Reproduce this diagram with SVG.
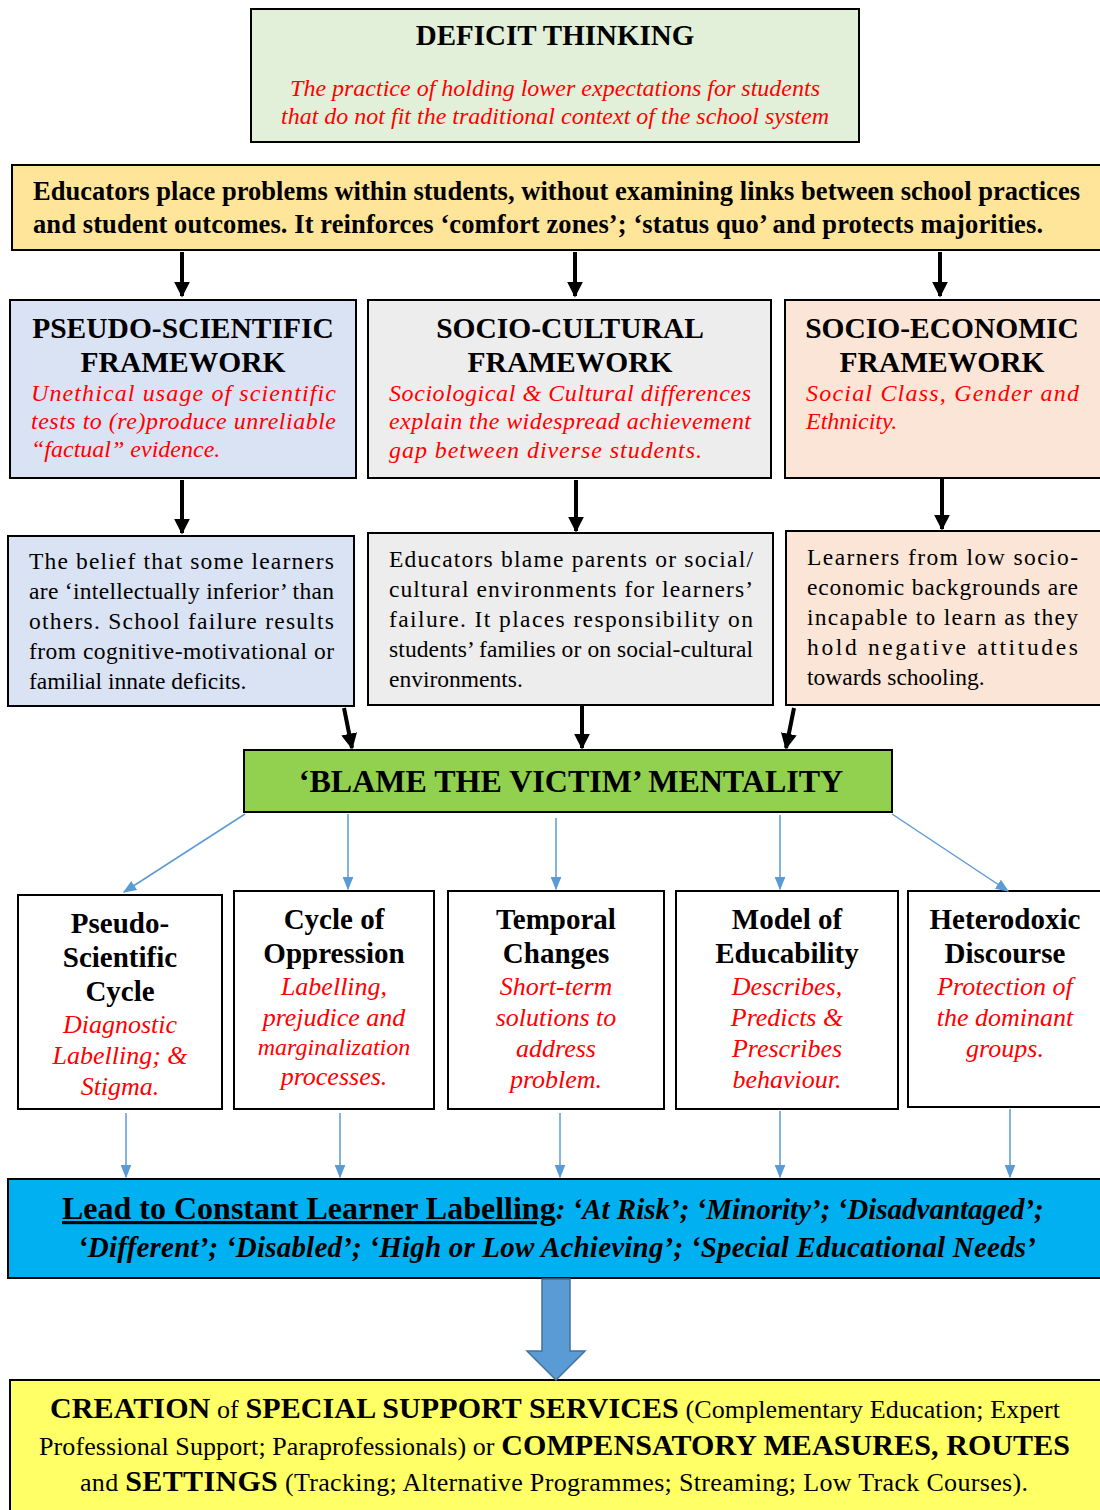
<svg xmlns="http://www.w3.org/2000/svg" width="1100" height="1510" viewBox="0 0 1100 1510" font-family="'Liberation Serif', 'Times New Roman', serif">
<defs>
<style>
text{font-family:"Liberation Serif","Times New Roman",serif;}
.box{stroke:#000;stroke-width:2;}
.bt{font-weight:bold;fill:#000;}
.red{fill:#ff0000;font-style:italic;}
.body{fill:#000;font-size:23.5px;}
.c{text-anchor:middle;}
.blk{stroke:#000;stroke-width:4;fill:none;}
.blu{stroke:#5b9bd5;stroke-width:1.5;fill:none;}
</style>
<marker id="ab" viewBox="0 0 10 10" refX="9" refY="5" markerWidth="4" markerHeight="4" markerUnits="strokeWidth" orient="auto"><path d="M0,0 L10,5 L0,10 z" fill="#000"/></marker>
<marker id="au" viewBox="0 0 10 10" refX="9" refY="5" markerWidth="9" markerHeight="9" markerUnits="strokeWidth" orient="auto"><path d="M0,1 L10,5 L0,9 z" fill="#5b9bd5"/></marker>
</defs>
<rect width="1100" height="1510" fill="#fff"/>

<g id="deficit">
<rect class="box" x="251" y="9" width="608" height="133" fill="#e2efd9"/>
<text class="bt c" x="555" y="45" font-size="29">DEFICIT THINKING</text>
<text class="red c" x="555" y="96" font-size="24">The practice of holding lower expectations for students</text>
<text class="red c" x="555" y="124" font-size="24">that do not fit the traditional context of the school system</text>
</g>

<g id="educators">
<rect class="box" x="12" y="165" width="1100" height="85" fill="#ffe599"/>
<text class="bt" x="33" y="200" font-size="26.5" textLength="1047" lengthAdjust="spacing">Educators place problems within students, without examining links between school practices</text>
<text class="bt" x="33" y="233" font-size="26.5" textLength="1010" lengthAdjust="spacing">and student outcomes. It reinforces ‘comfort zones’; ‘status quo’ and protects majorities.</text>
</g>

<g id="pseudo-framework">
<rect class="box" x="10" y="300" width="346" height="178" fill="#dae3f3"/>
<text class="bt c" x="183" y="338" font-size="29.5">PSEUDO-SCIENTIFIC</text>
<text class="bt c" x="183" y="372" font-size="29.5">FRAMEWORK</text>
<text class="red" x="31" y="401" font-size="24" textLength="305" lengthAdjust="spacing">Unethical usage of scientific</text>
<text class="red" x="31" y="429" font-size="24" textLength="305" lengthAdjust="spacing">tests to (re)produce unreliable</text>
<text class="red" x="31" y="457" font-size="24">“factual” evidence.</text>
</g>

<g id="socio-cultural-framework">
<rect class="box" x="368" y="300" width="403" height="178" fill="#ededed"/>
<text class="bt c" x="570" y="338" font-size="29.5">SOCIO-CULTURAL</text>
<text class="bt c" x="570" y="372" font-size="29.5">FRAMEWORK</text>
<text class="red" x="389" y="401" font-size="24" textLength="362" lengthAdjust="spacing">Sociological &amp; Cultural differences</text>
<text class="red" x="389" y="429" font-size="24" textLength="362" lengthAdjust="spacing">explain the widespread achievement</text>
<text class="red" x="389" y="458" font-size="24" textLength="313" lengthAdjust="spacing">gap between diverse students.</text>
</g>

<g id="socio-economic-framework">
<rect class="box" x="785" y="300" width="330" height="178" fill="#fbe5d6"/>
<text class="bt c" x="942" y="338" font-size="29.5">SOCIO-ECONOMIC</text>
<text class="bt c" x="942" y="372" font-size="29.5">FRAMEWORK</text>
<text class="red" x="806" y="401" font-size="24" textLength="273" lengthAdjust="spacing">Social Class, Gender and</text>
<text class="red" x="806" y="429" font-size="24">Ethnicity.</text>
</g>

<g id="pseudo-belief">
<rect class="box" x="8" y="536" width="346" height="170" fill="#dae3f3"/>
<text class="body" x="29" y="569" textLength="305" lengthAdjust="spacing">The belief that some learners</text>
<text class="body" x="29" y="599" textLength="305" lengthAdjust="spacing">are ‘intellectually inferior’ than</text>
<text class="body" x="29" y="629" textLength="305" lengthAdjust="spacing">others. School failure results</text>
<text class="body" x="29" y="659" textLength="305" lengthAdjust="spacing">from cognitive-motivational or</text>
<text class="body" x="29" y="689">familial innate deficits.</text>
</g>

<g id="cultural-blame">
<rect class="box" x="368" y="533" width="405" height="172" fill="#ededed"/>
<text class="body" x="389" y="567" textLength="364" lengthAdjust="spacing">Educators blame parents or social/</text>
<text class="body" x="389" y="597" textLength="364" lengthAdjust="spacing">cultural environments for learners’</text>
<text class="body" x="389" y="627" textLength="364" lengthAdjust="spacing">failure. It places responsibility on</text>
<text class="body" x="389" y="657" textLength="364" lengthAdjust="spacing">students’ families or on social-cultural</text>
<text class="body" x="389" y="687">environments.</text>
</g>

<g id="economic-learners">
<rect class="box" x="786" y="531" width="330" height="174" fill="#fbe5d6"/>
<text class="body" x="807" y="565" textLength="271" lengthAdjust="spacing">Learners from low socio-</text>
<text class="body" x="807" y="595" textLength="271" lengthAdjust="spacing">economic backgrounds are</text>
<text class="body" x="807" y="625" textLength="271" lengthAdjust="spacing">incapable to learn as they</text>
<text class="body" x="807" y="655" textLength="271" lengthAdjust="spacing">hold negative attitudes</text>
<text class="body" x="807" y="685">towards schooling.</text>
</g>

<g id="blame-victim">
<rect class="box" x="244" y="750" width="648" height="62" fill="#92d050"/>
<text class="bt c" x="571" y="792" font-size="32">‘BLAME THE VICTIM’ MENTALITY</text>
</g>

<g id="pseudo-cycle">
<rect class="box" x="18" y="895" width="204" height="214" fill="#fff"/>
<text class="bt c" x="120" y="933" font-size="29">Pseudo-</text>
<text class="bt c" x="120" y="967" font-size="29">Scientific</text>
<text class="bt c" x="120" y="1001" font-size="29">Cycle</text>
<text class="red c" x="120" y="1033" font-size="26">Diagnostic</text>
<text class="red c" x="120" y="1064" font-size="26">Labelling; &amp;</text>
<text class="red c" x="120" y="1095" font-size="26">Stigma.</text>
</g>

<g id="cycle-oppression">
<rect class="box" x="234" y="891" width="200" height="218" fill="#fff"/>
<text class="bt c" x="334" y="929" font-size="29">Cycle of</text>
<text class="bt c" x="334" y="963" font-size="29">Oppression</text>
<text class="red c" x="334" y="995" font-size="26">Labelling,</text>
<text class="red c" x="334" y="1026" font-size="26">prejudice and</text>
<text class="red c" x="334" y="1055" font-size="24">marginalization</text>
<text class="red c" x="334" y="1085" font-size="26">processes.</text>
</g>

<g id="temporal-changes">
<rect class="box" x="448" y="891" width="216" height="218" fill="#fff"/>
<text class="bt c" x="556" y="929" font-size="29">Temporal</text>
<text class="bt c" x="556" y="963" font-size="29">Changes</text>
<text class="red c" x="556" y="995" font-size="26">Short-term</text>
<text class="red c" x="556" y="1026" font-size="26">solutions to</text>
<text class="red c" x="556" y="1057" font-size="26">address</text>
<text class="red c" x="556" y="1088" font-size="26">problem.</text>
</g>

<g id="model-educability">
<rect class="box" x="676" y="891" width="222" height="218" fill="#fff"/>
<text class="bt c" x="787" y="929" font-size="29">Model of</text>
<text class="bt c" x="787" y="963" font-size="29">Educability</text>
<text class="red c" x="787" y="995" font-size="26">Describes,</text>
<text class="red c" x="787" y="1026" font-size="26">Predicts &amp;</text>
<text class="red c" x="787" y="1057" font-size="26">Prescribes</text>
<text class="red c" x="787" y="1088" font-size="26">behaviour.</text>
</g>

<g id="heterodoxic">
<rect class="box" x="908" y="891" width="204" height="216" fill="#fff"/>
<text class="bt c" x="1005" y="929" font-size="29">Heterodoxic</text>
<text class="bt c" x="1005" y="963" font-size="29">Discourse</text>
<text class="red c" x="1005" y="995" font-size="26">Protection of</text>
<text class="red c" x="1005" y="1026" font-size="26">the dominant</text>
<text class="red c" x="1005" y="1057" font-size="26">groups.</text>
</g>

<g id="labelling">
<rect class="box" x="8" y="1179" width="1104" height="99" fill="#00b0f0"/>
<text class="bt" x="62" y="1219" font-size="32"><tspan text-decoration="underline">Lead to Constant Learner Labelling</tspan><tspan font-style="italic" font-size="29">: ‘At Risk’; ‘Minority’; ‘Disadvantaged’;</tspan></text>
<text class="bt" x="78" y="1257" font-size="29" font-style="italic" textLength="958" lengthAdjust="spacing">‘Different’; ‘Disabled’;  ‘High or Low Achieving’; ‘Special Educational Needs’</text>
</g>

<g id="creation">
<rect class="box" x="10" y="1380" width="1102" height="132" fill="#ffff66"/>
<text x="50" y="1418" font-size="26" fill="#000" textLength="1010" lengthAdjust="spacing"><tspan font-weight="bold" font-size="30">CREATION</tspan> of <tspan font-weight="bold" font-size="30">SPECIAL SUPPORT SERVICES</tspan> (Complementary Education; Expert</text>
<text x="39" y="1455" font-size="26" fill="#000" textLength="1031" lengthAdjust="spacing">Professional Support; Paraprofessionals) or <tspan font-weight="bold" font-size="30">COMPENSATORY MEASURES, ROUTES</tspan></text>
<text x="80" y="1491" font-size="26" fill="#000" textLength="948" lengthAdjust="spacing">and <tspan font-weight="bold" font-size="30">SETTINGS</tspan> (Tracking; Alternative Programmes; Streaming; Low Track Courses).</text>
</g>

<g id="connectors">
<line class="blk" x1="182" y1="252" x2="182" y2="296" marker-end="url(#ab)"/>
<line class="blk" x1="575" y1="252" x2="575" y2="296" marker-end="url(#ab)"/>
<line class="blk" x1="940" y1="252" x2="940" y2="296" marker-end="url(#ab)"/>
<line class="blk" x1="182" y1="480" x2="182" y2="533" marker-end="url(#ab)"/>
<line class="blk" x1="576" y1="480" x2="576" y2="531" marker-end="url(#ab)"/>
<line class="blk" x1="942" y1="478" x2="942" y2="529" marker-end="url(#ab)"/>
<line class="blk" x1="344" y1="708" x2="352" y2="748" marker-end="url(#ab)"/>
<line class="blk" x1="582" y1="706" x2="582" y2="748" marker-end="url(#ab)"/>
<line class="blk" x1="794" y1="708" x2="786" y2="748" marker-end="url(#ab)"/>
<line class="blu" x1="245" y1="814" x2="124" y2="892" marker-end="url(#au)"/>
<line class="blu" x1="348" y1="814" x2="348" y2="889" marker-end="url(#au)"/>
<line class="blu" x1="556" y1="818" x2="556" y2="889" marker-end="url(#au)"/>
<line class="blu" x1="780" y1="815" x2="780" y2="889" marker-end="url(#au)"/>
<line class="blu" x1="892" y1="814" x2="1008" y2="891" marker-end="url(#au)"/>
<line class="blu" x1="126" y1="1113" x2="126" y2="1177" marker-end="url(#au)"/>
<line class="blu" x1="340" y1="1113" x2="340" y2="1177" marker-end="url(#au)"/>
<line class="blu" x1="560" y1="1113" x2="560" y2="1177" marker-end="url(#au)"/>
<line class="blu" x1="780" y1="1111" x2="780" y2="1177" marker-end="url(#au)"/>
<line class="blu" x1="1010" y1="1109" x2="1010" y2="1177" marker-end="url(#au)"/>
<path d="M542,1279 L570,1279 L570,1351 L585,1351 L556,1380 L527,1351 L542,1351 Z" fill="#5b9bd5" stroke="#41719c" stroke-width="1.5"/>
</g>
</svg>
